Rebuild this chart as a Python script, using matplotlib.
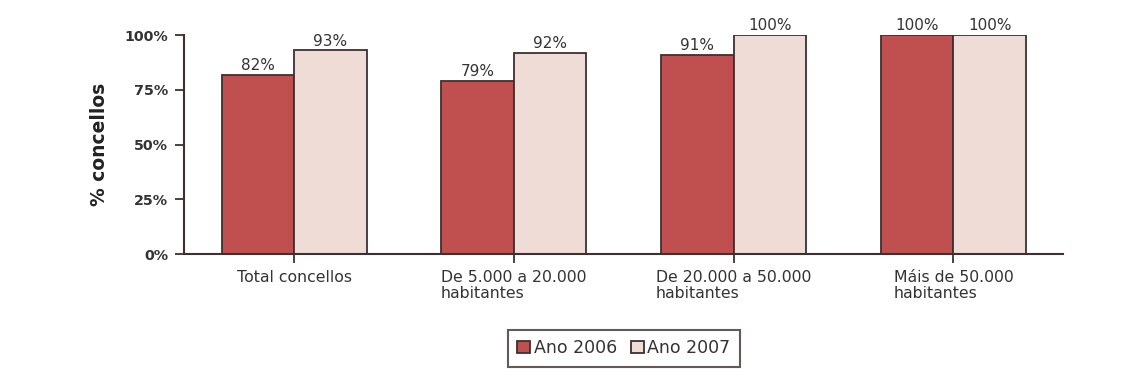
import matplotlib
matplotlib.use("Agg")
import matplotlib.pyplot as plt
import numpy as np

categories = ["Total concellos", "De 5.000 a 20.000\nhabitantes",
              "De 20.000 a 50.000\nhabitantes", "Máis de 50.000\nhabitantes"]
ano_2006 = [82, 79, 91, 100]
ano_2007 = [93, 92, 100, 100]
series_labels = ["Ano 2006", "Ano 2007"]
yticks = [0, 25, 50, 75, 100]

plt.rcParams['font.family'] = ['DejaVu Sans']

fig = plt.figure(figsize=(11.3, 3.82), dpi=100)
ax = fig.add_axes([0.163, 0.335, 0.778, 0.573])

x = np.arange(len(categories))
w = 0.33
edge = '#3d3030'
c1 = '#c0504f'
c2 = '#f0dcd7'
txt = '#333333'
b1 = ax.bar(x - w/2, ano_2006, w, color=c1, edgecolor=edge, linewidth=1.3, label=series_labels[0])
b2 = ax.bar(x + w/2, ano_2007, w, color=c2, edgecolor=edge, linewidth=1.3, label=series_labels[1])

for bars, vals in ((b1, ano_2006), (b2, ano_2007)):
    for r, v in zip(bars, vals):
        ax.text(r.get_x() + r.get_width()/2, v + 0.8, f"{v}%", ha='center', va='bottom',
                fontsize=11, color=txt)

ax.set_xlim(-0.5, 3.5)
ax.set_ylim(0, 100)
ax.set_yticks(yticks)
ax.set_yticklabels([f"{t}%" for t in yticks], fontsize=10.3, fontweight='bold', color=txt)
ax.set_xticks(x)
ax.set_xticklabels(categories, fontsize=11.3, color=txt, multialignment='left', linespacing=1.1)
ax.tick_params(axis='both', direction='out', length=6.5, width=1.3, color=edge)
ax.tick_params(axis='y', pad=5)
ax.tick_params(axis='x', pad=5)
for s in ('top', 'right'):
    ax.spines[s].set_visible(False)
for s in ('left', 'bottom'):
    ax.spines[s].set_color(edge)
    ax.spines[s].set_linewidth(1.5)

ax.set_ylabel("% concellos", fontsize=13.5, fontweight='bold', labelpad=11, color='#222222')

leg = ax.legend(loc='center', bbox_to_anchor=(0.5, -0.43), ncol=2, frameon=True,
                fancybox=False, edgecolor=edge, fontsize=12.5, handlelength=0.75,
                handleheight=0.75, handletextpad=0.2, columnspacing=0.8, borderpad=0.55)
leg.get_frame().set_linewidth(1.5)
for t in leg.get_texts():
    t.set_color(txt)

fig.savefig("out.png", dpi=100, facecolor='white')
